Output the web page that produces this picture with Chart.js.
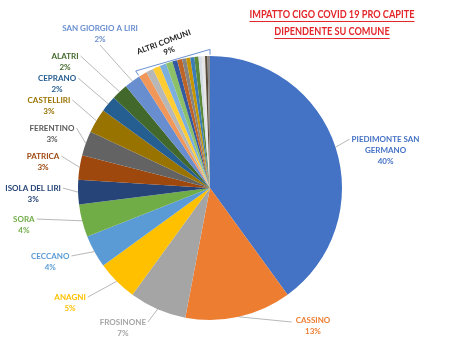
<!DOCTYPE html>
<html><head><meta charset="utf-8">
<script src="https://cdn.jsdelivr.net/npm/chart.js@4/dist/chart.umd.min.js"></script>
<style>html,body{margin:0;padding:0;background:#fff}#wrap{width:450px;height:341px;position:relative}</style>
</head><body><div id="wrap"><canvas id="c" width="450" height="341"></canvas></div>
<script>
const titleLines = ["IMPATTO CIGO COVID 19 PRO CAPITE", "DIPENDENTE SU COMUNE"];
const categories = ["PIEDIMONTE SAN GERMANO","CASSINO","FROSINONE","ANAGNI","CECCANO","SORA","ISOLA DEL LIRI","PATRICA","FERENTINO","CASTELLIRI","CEPRANO","ALATRI","SAN GIORGIO A LIRI",
  "ALTRI 1","ALTRI 2","ALTRI 3","ALTRI 4","ALTRI 5","ALTRI 6","ALTRI 7","ALTRI 8","ALTRI 9","ALTRI 10","ALTRI 11","ALTRI 12","ALTRI 13","ALTRI 14","ALTRI 15"];
const values = [40,13,7,5,4,4,3,3,3,3,2,2,2, 1.0,0.9,0.9,0.8,0.8,0.6,0.6,0.5,0.5,0.5,0.5,0.4,0.4,0.3,0.3];
const percentLabels = ["40%","13%","7%","5%","4%","4%","3%","3%","3%","3%","2%","2%","2%"];
const otherLabel = ["ALTRI COMUNI","9%"];
const colors = ["#4472C4","#ED7D31","#A5A5A5","#FFC000","#5B9BD5","#70AD47","#264478","#9E480E","#636363","#997300","#255E91","#43682B","#698ED0",
  "#F1975A","#B7B7B7","#FFCD33","#7CAFDD","#8CC168","#335AA1","#BE6427","#848484","#C69500","#3C7DB8","#5A8A39","#D6DCE5","#E7E6E6","#5A4A3A","#8C8C8C","#4D4D4D"];
const labelColors = ["#4472C4","#ED7D31","#A5A5A5","#FFC000","#5B9BD5","#70AD47","#264478","#9E480E","#595959","#997300","#255E91","#43682B","#698ED0"];

// label anchor (text centre x, first line y) in units of pie radius from the pie centre
const labelAnchor = [[1.33,-0.37],[0.78,1.0],[-0.66,1.015],[-1.06,0.826],[-1.21,0.515],[-1.41,0.235],[-1.34,0.0],[-1.265,-0.242],[-1.197,-0.455],[-1.22,-0.667],[-1.159,-0.833],[-1.098,-1.0],[-0.833,-1.212]];

const FONT = "Lato, 'Open Sans', sans-serif";

const labelPlugin = {
  id: 'callouts',
  afterDatasetsDraw(chart) {
    const ctx = chart.ctx;
    const meta = chart.getDatasetMeta(0);
    const a0 = meta.data[0];
    const cx = a0.x, cy = a0.y, r = a0.outerRadius;
    ctx.save();
    ctx.font = "bold 8px " + FONT;
    ctx.textAlign = "center";
    ctx.textBaseline = "middle";
    const lh = 11;
    for (let i = 0; i < percentLabels.length; i++) {
      const arc = meta.data[i];
      const mid = (arc.startAngle + arc.endAngle) / 2;
      const px = cx + Math.cos(mid) * r, py = cy + Math.sin(mid) * r;
      const lx = cx + labelAnchor[i][0] * r, ly = cy + labelAnchor[i][1] * r;
      let lines = i === 0 ? ["PIEDIMONTE SAN","GERMANO",percentLabels[i]] : [categories[i], percentLabels[i]];
      const w = Math.max(...lines.map(t => ctx.measureText(t).width));
      let ex, ey;
      if (lx < cx) { ex = lx + w/2 + 2; ey = ly; }
      else { ex = lx - w/2 - 2; ey = ly; }
      if (i === 12) { ex = lx; ey = ly + lh + 6; }
      if (i === 1) { ex = lx - w/2 - 4; ey = ly + 2; }
      ctx.strokeStyle = "#A6A6A6";
      ctx.lineWidth = 0.8;
      ctx.beginPath();
      ctx.moveTo(ex, ey);
      ctx.lineTo(px, py);
      ctx.stroke();
      ctx.fillStyle = labelColors[i];
      lines.forEach((t, k) => ctx.fillText(t, lx, ly + k * lh));
    }
    // ALTRI COMUNI bracket
    const sArc = meta.data[13], eArc = meta.data[meta.data.length - 1];
    const sa = sArc.startAngle, ea = eArc.endAngle;
    const R = r * 1.05;
    const x1 = cx + Math.cos(sa) * R, y1 = cy + Math.sin(sa) * R;
    const x2 = cx + Math.cos(ea) * R, y2 = cy + Math.sin(ea) * R;
    ctx.strokeStyle = "#4472C4";
    ctx.lineWidth = 0.8;
    ctx.beginPath();
    ctx.moveTo(cx + Math.cos(sa) * r * 1.01, cy + Math.sin(sa) * r * 1.01);
    ctx.lineTo(x1, y1);
    ctx.lineTo(x2, y2);
    ctx.lineTo(cx + Math.cos(ea) * r * 1.01, cy + Math.sin(ea) * r * 1.01);
    ctx.stroke();
    ctx.save();
    ctx.translate(cx - 0.35 * r, cy - 1.105 * r);
    ctx.rotate(-0.36);
    ctx.fillStyle = "#262626";
    ctx.fillText(otherLabel[0], 0, 0);
    ctx.fillText(otherLabel[1], 2, 10);
    ctx.restore();
    // Title
    const tcx = 332;
    ctx.fillStyle = "#E3262A";
    ctx.strokeStyle = "#E3262A";
    ctx.font = "bold 12px " + FONT;
    const sx = 165 / ctx.measureText(titleLines[0]).width;
    titleLines.forEach((t, k) => {
      const tw = ctx.measureText(t).width * sx;
      const y = 14 + k * 17;
      ctx.save();
      ctx.translate(tcx, y);
      ctx.scale(sx, 1);
      ctx.fillText(t, 0, 0);
      ctx.restore();
      ctx.lineWidth = 1;
      ctx.beginPath();
      ctx.moveTo(tcx - tw/2, y + 7.5);
      ctx.lineTo(tcx + tw/2, y + 7.5);
      ctx.stroke();
    });
    ctx.restore();
  }
};

new Chart(document.getElementById('c'), {
  type: 'pie',
  data: { labels: categories, datasets: [{ data: values, backgroundColor: colors, borderWidth: 0 }] },
  options: {
    responsive: false, animation: false,
    layout: { padding: { top: 56, bottom: 21, left: 60, right: 90 } },
    plugins: { legend: { display: false }, tooltip: { enabled: false }, title: { display: false } }
  },
  plugins: [labelPlugin]
});
</script></body></html>
